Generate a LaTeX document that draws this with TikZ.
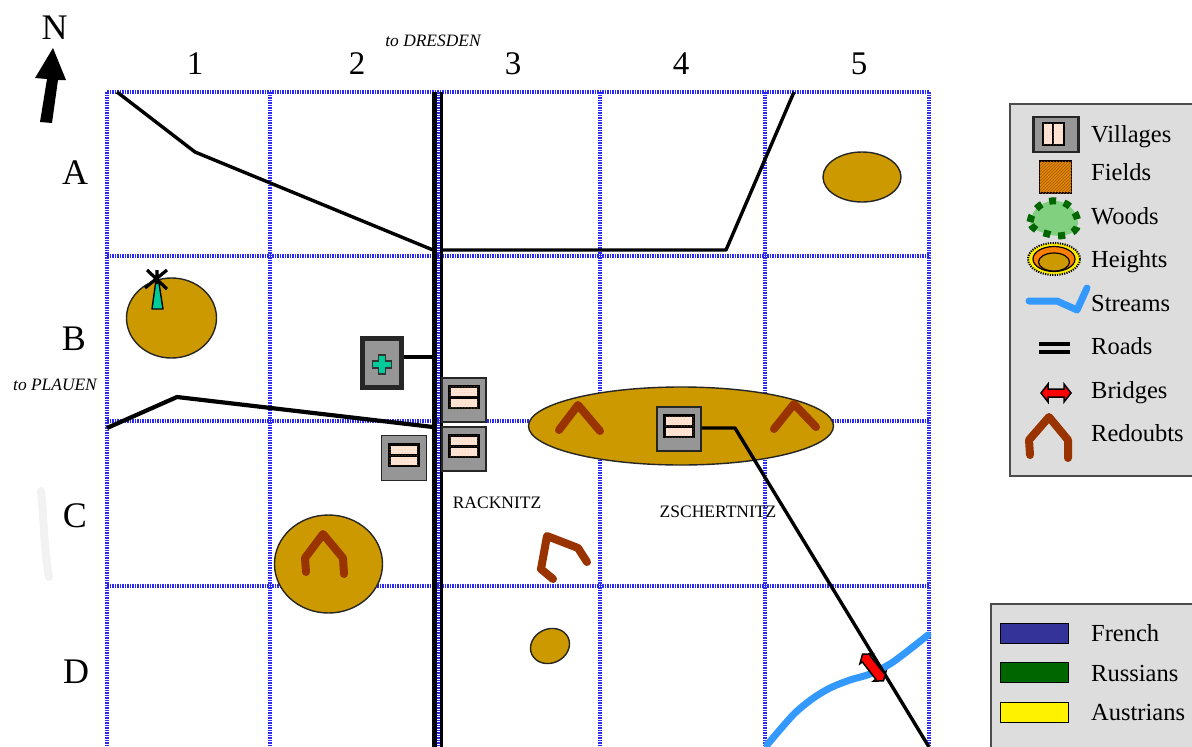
\documentclass[tikz,border=0pt]{standalone}
\usepackage{fontspec}
\setmainfont{Liberation Serif}
\usetikzlibrary{shapes.geometric,patterns}
\definecolor{gold}{HTML}{CC9900}
\definecolor{gridblue}{HTML}{2A2AF0}
\definecolor{stream}{HTML}{3399FF}
\definecolor{redoubt}{HTML}{993300}
\definecolor{vgray}{HTML}{969696}
\definecolor{peach}{HTML}{FFE4D8}
\definecolor{legendbg}{HTML}{DDDDDD}
\definecolor{teal2}{HTML}{00CC99}
\definecolor{fieldor}{HTML}{E08A00}
\definecolor{woodg}{HTML}{80D080}
\definecolor{woodd}{HTML}{006600}
\definecolor{frenchb}{HTML}{333399}
\tikzset{
  gridline/.style={gridblue,line width=3.4pt,dash pattern=on 1.5pt off 1pt},
  road/.style={black,line width=3.4pt,line join=round},
  hill/.style={ellipse,draw=black!85,line width=1.4pt,fill=gold,inner sep=0pt},
  redoubtline/.style={redoubt,line width=8pt,line cap=round,line join=round},
  streamline/.style={stream,line width=7pt,line cap=round,line join=round},
  villagebox/.style={rectangle,draw=black!85,line width=1.8pt,fill=vgray,minimum width=44pt,minimum height=44pt,inner sep=0pt},
  villagepart/.style={rectangle,draw=black,line width=2.2pt,fill=peach,inner sep=0pt,postaction={pattern=dots,pattern color=orange!55}},
  legendpanel/.style={rectangle,draw=black!70,line width=1.6pt,fill=legendbg,inner sep=0pt},
  coltext/.style={font=\fontsize{33}{36}\selectfont,text=black,inner sep=0pt},
  rowtext/.style={font=\fontsize{36}{40}\selectfont,text=black,inner sep=0pt},
  legtext/.style={font=\fontsize{24.5}{27}\selectfont,text=black,anchor=base west,inner sep=0pt},
  maptext/.style={font=\fontsize{17.5}{20}\selectfont,text=black,inner sep=0pt},
  ittext/.style={font=\itshape\fontsize{17.4}{20}\selectfont,text=black,inner sep=0pt},
  armour/.style={draw=black,line width=1.5pt,fill=red,line join=miter}
}
\newcommand{\villagerows}[1]{%
  \node[villagepart,minimum width=29pt,minimum height=11pt] at ([yshift=-2.5pt]#1.center) {};
  \node[villagepart,minimum width=29pt,minimum height=11pt] at ([yshift=8pt]#1.center) {};}
\begin{document}
\begin{tikzpicture}[x=1pt,y=-1pt]
\useasboundingbox (0,0) rectangle (1192,747);
\fill[white] (0,0) rectangle (1192,747);
% smudge
\draw[black!5,line width=8pt,line cap=round] (41,491) .. controls (44,520) and (44,550) .. (49,577);
% grid
\foreach \x in {107,270,438,600,765,929} \draw[gridline] (\x,92) -- (\x,747);
\foreach \y in {92,256,421,586} \draw[gridline] (107,\y) -- (929,\y);
% hills
\node[hill,minimum width=78pt,minimum height=50pt] (hA) at (862,177) {};
\node[hill,minimum width=90pt,minimum height=80pt] (hB) at (171.5,318) {};
\node[hill,minimum width=305pt,minimum height=78pt] (hZ) at (681,426) {};
\node[hill,minimum width=108pt,minimum height=98pt] (hC) at (328.5,564) {};
\node[hill,minimum width=40pt,minimum height=34pt,rotate=25] (hD) at (550,646) {};
% stream
\draw[streamline] plot[smooth] coordinates {(767,745) (793,715) (812,699) (830,688) (850,680) (870,674) (893,662) (928,635)};
% main road
\coordinate (mt1) at (434,92); \coordinate (mb1) at (434,747);
\coordinate (mt2) at (441.5,92); \coordinate (mb2) at (441.5,747);
\draw[black,line width=5pt] (mt1) -- (mb1);
\draw[black,line width=3.6pt] (mt2) -- (mb2);
% villages
\node[villagebox] (v1) at (464,400) {};
\node[villagebox] (v2) at (464,449) {};
\node[villagebox,minimum width=45pt,minimum height=45pt] (v3) at (404,458) {};
\node[villagebox] (v4) at (679,429) {};
\node[villagebox,line width=5pt,minimum width=39pt,minimum height=49pt] (hosp) at (382,363) {};
\villagerows{v1}\villagerows{v2}\villagerows{v3}\villagerows{v4}
\draw[black!80,fill=teal2,line width=1.5pt,shift={(382,364.5)}] (-3.5,-9.5) -- (3.5,-9.5) -- (3.5,-3.5) -- (9.5,-3.5) -- (9.5,3.5) -- (3.5,3.5) -- (3.5,9.5) -- (-3.5,9.5) -- (-3.5,3.5) -- (-9.5,3.5) -- (-9.5,-3.5) -- (-3.5,-3.5) -- cycle;
% roads
\coordinate (r1a) at (117,92); \coordinate (r1b) at (195,152); \coordinate (r1c) at (433,250);
\draw[road] (r1a) -- (r1b) -- (r1c);
\coordinate (r2a) at (441,250); \coordinate (r2b) at (726,250); \coordinate (r2c) at (794,92);
\draw[road] (r2a) -- (r2b) -- (r2c);
\coordinate (r3a) at (107,428); \coordinate (r3b) at (177,397); \coordinate (r3c) at (433,427);
\draw[road,line width=4.2pt] (r3a) -- (r3b) -- (r3c);
\coordinate (r4) at (433,357);
\draw[road] (hosp.east |- r4) -- (r4);
\coordinate (r5b) at (735,428); \coordinate (r5c) at (929,747);
\draw[road] (v4.east |- r5b) -- (r5b) -- (r5c);
\draw[armour,shift={(873,667.5)},rotate=-52] (-17,0) -- (-11,-8) -- (-11,-5) -- (11,-5) -- (11,-8) -- (17,0) -- (11,8) -- (11,5) -- (-11,5) -- (-11,8) -- cycle;
% redoubts
\draw[redoubtline] (306,572) -- (305,558) -- (323,534) -- (343,558) -- (344,574);
\draw[redoubtline] (559,430) -- (578,405) -- (600,431);
\draw[redoubtline] (774,429) -- (794,404) -- (816,427);
\draw[redoubtline] (553,579) -- (541,569) -- (547,536) -- (578,548) -- (587,562);
% windmill
\draw[black,fill=teal2,line width=1.4pt,line join=round] (152,309) -- (163,309) -- (158.5,280) -- (156,280) -- cycle;
\draw[black,line width=3.2pt] (147,270) -- (167,289) (167,270) -- (145,288) (157,270) -- (157,284);
% labels
\node[coltext] (c1) at (195,64) {1};
\node[coltext] (c2) at (357,64) {2};
\node[coltext] (c3) at (513,64) {3};
\node[coltext] (c4) at (681,64) {4};
\node[coltext] (c5) at (859,64) {5};
\node[rowtext] (ra) at (75,173) {A};
\node[rowtext] (rb) at (74,339) {B};
\node[rowtext] (rc) at (75,516) {C};
\node[rowtext] (rd) at (76,672) {D};
\node[rowtext] (north) at (54.5,28) {N};
\fill[black] (53,48) -- (66,80) -- (58,80) -- (52,123) -- (40,122) -- (47,79) -- (35,78) -- cycle;
\node[ittext] (dres) at (433,41) {to DRESDEN};
\node[ittext] (plau) at (55,385) {to PLAUEN};
\node[maptext] (rack) at (497,503) {RACKNITZ};
\node[maptext] (zsch) at (718,512) {ZSCHERTNITZ};
% legend 1
\node[legendpanel,anchor=north west,minimum width=200pt,minimum height=372pt] (leg1) at (1009,103) {};
\node[villagebox,line width=2.4pt,minimum width=45pt,minimum height=35pt] (lv) at (1056,134.5) {};
\node[villagepart,minimum width=11pt,minimum height=22pt] at (1048.5,134) {};
\node[villagepart,minimum width=11pt,minimum height=22pt] at (1058.5,134) {};
\node[draw=black,line width=1.6pt,fill=fieldor,inner sep=0pt,minimum size=32pt,postaction={pattern=north east lines,pattern color=black!35!orange}] (lf) at (1055.5,177) {};
\draw[fill=woodg,draw=woodd,line width=7pt,dash pattern=on 7pt off 8pt] (1030,222) .. controls (1032,208) and (1045,199) .. (1058,201) .. controls (1072,203) and (1078,216) .. (1078,224) .. controls (1076,236) and (1058,238) .. (1048,234) .. controls (1040,232) and (1032,230) .. (1030,222) -- cycle;
\node[ellipse,fill=yellow!95!orange,draw=black,line width=2pt,dash pattern=on 1.2pt off 1.2pt,minimum width=52pt,minimum height=32pt,inner sep=0pt] (lh1) at (1054,259) {};
\node[ellipse,draw=black,line width=1.2pt,fill=orange,minimum width=42pt,minimum height=25pt,inner sep=0pt] (lh2) at (1054,259) {};
\node[ellipse,draw=black,line width=1.2pt,fill=gold,minimum width=31pt,minimum height=18pt,inner sep=0pt] (lh3) at (1054,262) {};
\draw[streamline] (1029,301) -- (1057,301) -- (1077,310) -- (1087,288);
\draw[black,line width=4pt] (1039,344) -- (1070,344) (1039,352) -- (1070,352);
\draw[armour,shift={(1056,393)}] (-15,0) -- (-8,-9) -- (-8,-4) -- (8,-4) -- (8,-9) -- (15,0) -- (8,9) -- (8,4) -- (-8,4) -- (-8,9) -- cycle;
\draw[redoubtline] (1030,455) -- (1029,440) -- (1049,417) -- (1068,440) -- (1068,458);
\node[legtext] at (1091,142) {Villages};
\node[legtext] at (1091,180) {Fields};
\node[legtext] at (1091,224) {Woods};
\node[legtext] at (1091,267) {Heights};
\node[legtext] at (1091,311) {Streams};
\node[legtext] at (1091,354) {Roads};
\node[legtext] at (1091,398) {Bridges};
\node[legtext] at (1091,441) {Redoubts};
% legend 2
\node[legendpanel,anchor=north west,minimum width=220pt,minimum height=160pt] (leg2) at (990,603) {};
\node[draw=black,line width=1pt,fill=frenchb,minimum width=68pt,minimum height=20pt,inner sep=0pt] (fr) at (1034,633) {};
\node[draw=black,line width=1pt,fill=woodd,minimum width=68pt,minimum height=20pt,inner sep=0pt] (ru) at (1034,672) {};
\node[draw=black,line width=1pt,fill=yellow,minimum width=68pt,minimum height=20pt,inner sep=0pt] (au) at (1034,712) {};
\node[legtext] at (1091,641) {French};
\node[legtext] at (1091,681) {Russians};
\node[legtext] at (1091,720) {Austrians};
\end{tikzpicture}
\end{document}
